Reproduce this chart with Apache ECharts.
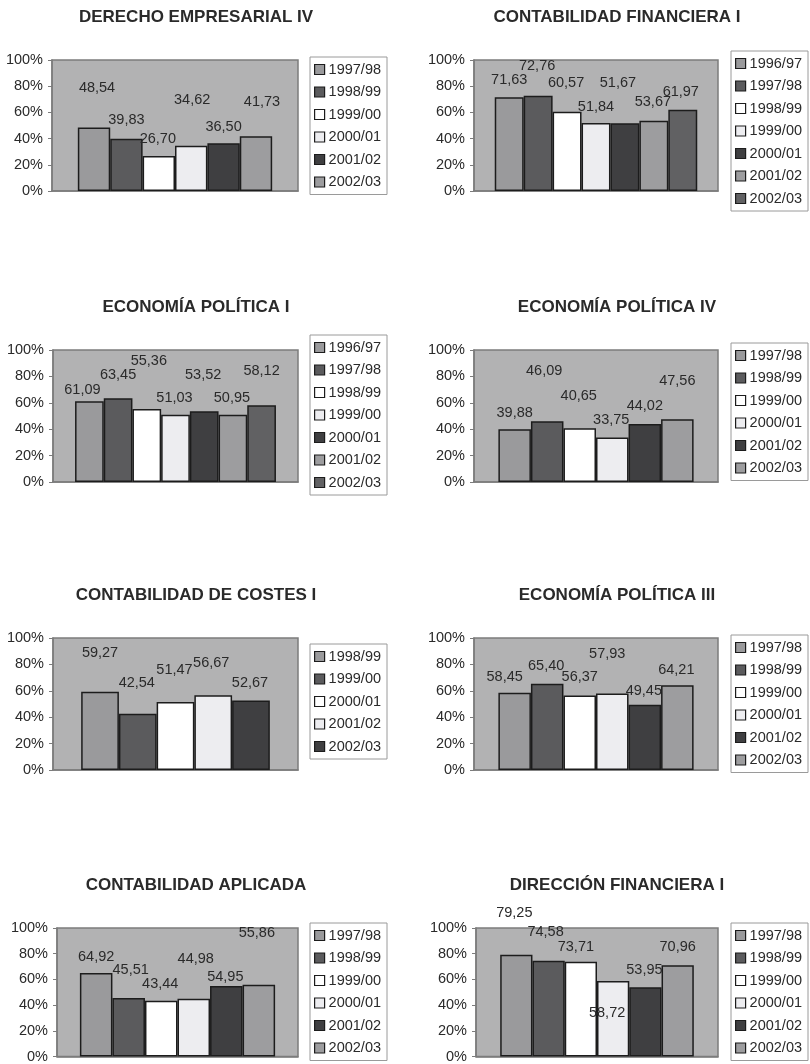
<!DOCTYPE html>
<html>
<head>
<meta charset="utf-8">
<script src="https://cdn.jsdelivr.net/npm/echarts@6/dist/echarts.min.js"></script>
<style>
  html, body { margin: 0; padding: 0; background: #ffffff; }
  #wrap { position: relative; width: 810px; height: 1064px; overflow: hidden; }
  .panel { position: absolute; }
</style>
</head>
<body>
<div id="wrap"></div>
<script>
// ---------- DATA ----------
const titles = ['DERECHO EMPRESARIAL IV', 'CONTABILIDAD FINANCIERA I', 'ECONOMÍA POLÍTICA I', 'ECONOMÍA POLÍTICA IV',
                'CONTABILIDAD DE COSTES I', 'ECONOMÍA POLÍTICA III', 'CONTABILIDAD APLICADA', 'DIRECCIÓN FINANCIERA I'];

const derechoYears = ['1997/98', '1998/99', '1999/00', '2000/01', '2001/02', '2002/03'];
const derechoValues = [48.54, 39.83, 26.70, 34.62, 36.50, 41.73];

const contFinYears = ['1996/97', '1997/98', '1998/99', '1999/00', '2000/01', '2001/02', '2002/03'];
const contFinValues = [71.63, 72.76, 60.57, 51.84, 51.67, 53.67, 61.97];

const ecoPol1Years = ['1996/97', '1997/98', '1998/99', '1999/00', '2000/01', '2001/02', '2002/03'];
const ecoPol1Values = [61.09, 63.45, 55.36, 51.03, 53.52, 50.95, 58.12];

const ecoPol4Years = ['1997/98', '1998/99', '1999/00', '2000/01', '2001/02', '2002/03'];
const ecoPol4Values = [39.88, 46.09, 40.65, 33.75, 44.02, 47.56];

const costesYears = ['1998/99', '1999/00', '2000/01', '2001/02', '2002/03'];
const costesValues = [59.27, 42.54, 51.47, 56.67, 52.67];

const ecoPol3Years = ['1997/98', '1998/99', '1999/00', '2000/01', '2001/02', '2002/03'];
const ecoPol3Values = [58.45, 65.40, 56.37, 57.93, 49.45, 64.21];

const aplicadaYears = ['1997/98', '1998/99', '1999/00', '2000/01', '2001/02', '2002/03'];
const aplicadaValues = [64.92, 45.51, 43.44, 44.98, 54.95, 55.86];

const dirFinYears = ['1997/98', '1998/99', '1999/00', '2000/01', '2001/02', '2002/03'];
const dirFinValues = [79.25, 74.58, 73.71, 58.72, 53.95, 70.96];

const yTickMin = 0, yTickMax = 100, yTickStep = 20;

const panelYears = [derechoYears, contFinYears, ecoPol1Years, ecoPol4Years, costesYears, ecoPol3Years, aplicadaYears, dirFinYears];
const panelValues = [derechoValues, contFinValues, ecoPol1Values, ecoPol4Values, costesValues, ecoPol3Values, aplicadaValues, dirFinValues];

// ---------- STYLE / LAYOUT ----------
const barColors = ['#9a9a9c', '#5b5b5d', '#ffffff', '#ededf0', '#3f3f41', '#9d9d9f', '#616163'];

const layout = [
  { x: 0,   y: 0,   h: 290, gl: 52, gw: 246, gh: 131, lt: 57, gap: '21%' },
  { x: 421, y: 0,   h: 290, gl: 53, gw: 244, gh: 131, lt: 51, gap: '17%' },
  { x: 0,   y: 290, h: 288, gl: 53, gw: 245, gh: 132, lt: 45, gap: '18%' },
  { x: 421, y: 290, h: 288, gl: 53, gw: 244, gh: 132, lt: 53, gap: '20%' },
  { x: 0,   y: 578, h: 290, gl: 53, gw: 245, gh: 132, lt: 66, gap: '23%' },
  { x: 421, y: 578, h: 290, gl: 53, gw: 244, gh: 132, lt: 57, gap: '20%' },
  { x: 0,   y: 868, h: 196, gl: 57, gw: 241, gh: 130, lt: 55, gap: '19%' },
  { x: 421, y: 868, h: 196, gl: 55, gw: 242, gh: 130, lt: 55, gap: '20%' }
];

// label offsets (style only, relative to default top label position)
const labelOffsets = [
  [[3, -31], [0, -10], [-1, -9], [1, -37], [0, -8], [6, -26]],
  [[0, -9], [-1, -21], [-1, -20], [0, -8], [-7, -32], [-1, -10], [-2, -9]],
  [[-7, -3], [0, -15], [2, -39], [-1, -8], [-1, -28], [-1, -8], [0, -26]],
  [[0, -8], [-3, -42], [-1, -24], [-1, -9], [0, -9], [0, -30]],
  [[0, -30], [-1, -22], [-1, -24], [-2, -24], [-1, -9]],
  [[-10, -7], [-1, -9], [0, -10], [-5, -31], [-1, -5], [-1, -7]],
  [[0, -8], [2, -20], [-1, -8], [2, -31], [-1, 0], [-2, -43]],
  [[-2, -33], [-3, -20], [-5, -6], [-6, 40], [-1, -9], [0, -10]]
];

const FONT = '"Liberation Sans", Arial, Helvetica, sans-serif';
const fmt = v => v.toFixed(2).replace('.', ',');

const wrap = document.getElementById('wrap');
titles.forEach((title, p) => {
  const L = layout[p];
  const div = document.createElement('div');
  div.className = 'panel';
  div.style.left = L.x + 'px';
  div.style.top = L.y + 'px';
  div.style.width = '389px';
  div.style.height = L.h + 'px';
  wrap.appendChild(div);

  const years = panelYears[p];
  const values = panelValues[p];
  const series = years.map((yr, i) => ({
    name: yr,
    type: 'bar',
    barGap: '0%',
    barCategoryGap: L.gap,
    data: [values[i]],
    itemStyle: { color: barColors[i], borderColor: '#1c1c1c', borderWidth: 1.5 },
    label: {
      show: true,
      position: 'top',
      distance: 1,
      offset: labelOffsets[p][i],
      formatter: prm => fmt(prm.value),
      fontFamily: FONT,
      fontSize: 14.5,
      color: '#2a2a2a'
    },
    emphasis: { disabled: true },
    animation: false
  }));

  const chart = echarts.init(div, null, { renderer: 'canvas' });
  chart.setOption({
    animation: false,
    title: {
      text: title,
      left: 191,
      top: 4,
      textAlign: 'center',
      textStyle: { fontFamily: FONT, fontSize: 17, fontWeight: 'bold', color: '#2a2a2a' }
    },
    grid: {
      left: L.gl, top: 60, width: L.gw, height: L.gh,
      show: true, backgroundColor: '#b2b2b3', borderColor: '#7c7c7c', borderWidth: 1.5,
      containLabel: false
    },
    legend: {
      orient: 'vertical',
      left: 310,
      top: L.lt,
      data: years,
      icon: 'rect',
      itemWidth: 10,
      itemHeight: 10,
      itemGap: 7.5,
      padding: [5, 6, 5, 4],
      backgroundColor: '#ffffff',
      borderColor: '#9a9a9a',
      borderWidth: 1,
      borderRadius: 0,
      selectedMode: false,
      itemStyle: { borderColor: '#1c1c1c', borderWidth: 1.2 },
      textStyle: { fontFamily: FONT, fontSize: 14.5, color: '#2a2a2a', padding: [0, 0, 0, -1] }
    },
    xAxis: {
      type: 'category',
      data: [''],
      axisLine: { show: true, lineStyle: { color: '#7c7c7c', width: 1.5 } },
      axisTick: { show: false },
      axisLabel: { show: false },
      splitLine: { show: false }
    },
    yAxis: {
      type: 'value',
      min: yTickMin,
      max: yTickMax,
      interval: yTickStep,
      axisLine: { show: true, lineStyle: { color: '#7c7c7c', width: 1.5 } },
      axisTick: { show: true, length: 4, lineStyle: { color: '#7c7c7c' } },
      splitLine: { show: false },
      axisLabel: {
        formatter: '{value}%',
        margin: 9,
        fontFamily: FONT,
        fontSize: 14.5,
        color: '#2a2a2a'
      }
    },
    series: series
  });
});
</script>
</body>
</html>
